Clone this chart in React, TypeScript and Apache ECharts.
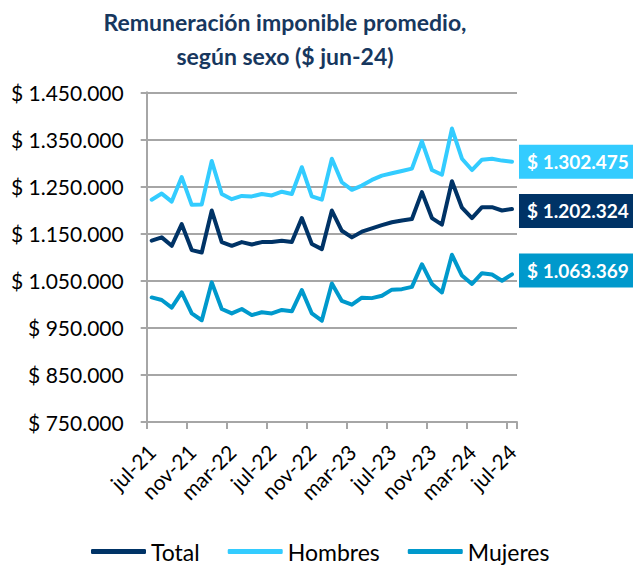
import React, { useEffect, useRef } from "react";
import * as echarts from "echarts";

const months = [
  "jul-21","ago-21","sep-21","oct-21","nov-21","dic-21","ene-22","feb-22","mar-22","abr-22","may-22","jun-22",
  "jul-22","ago-22","sep-22","oct-22","nov-22","dic-22","ene-23","feb-23","mar-23","abr-23","may-23","jun-23",
  "jul-23","ago-23","sep-23","oct-23","nov-23","dic-23","ene-24","feb-24","mar-24","abr-24","may-24","jun-24",
  "jul-24",
];

const total = [
  1135000,1142000,1124000,1170000,1115000,1110000,1199000,1132000,1124000,1132000,1127000,1132000,
  1132000,1135000,1132000,1183000,1128000,1117000,1199000,1156000,1142000,1154000,1161000,1168000,
  1174000,1178000,1181000,1238000,1183000,1169000,1261000,1205000,1183000,1206000,1206000,1199000,
  1202324,
];

const hombres = [
  1222000,1235000,1218000,1270000,1211000,1212000,1304000,1234000,1223000,1230000,1229000,1234000,
  1231000,1239000,1234000,1291000,1229000,1222000,1309000,1259000,1243000,1252000,1264000,1273000,
  1278000,1283000,1288000,1346000,1285000,1275000,1373000,1309000,1285000,1307000,1309000,1305000,
  1302475,
];

const mujeres = [
  1014500,1009000,993000,1025000,980500,966000,1046500,990000,980500,990000,977000,983000,
  980500,988000,985000,1030000,980500,965000,1044000,1007000,999000,1014000,1013000,1018000,
  1031000,1032000,1037000,1085000,1043000,1025000,1105000,1061000,1043000,1066000,1063000,1050000,
  1063369,
];

const FONT = "Lato";
const fmt = (v: number) => "$ " + String(Math.round(v)).replace(/\B(?=(\d{3})+(?!\d))/g, ".");

export default function App() {
  const ref = useRef<HTMLDivElement>(null);
  useEffect(() => {
    document.body.style.margin = "0";
    const chart = echarts.init(ref.current!, null, { renderer: "svg" });
    const mk = (name: string, data: number[], color: string, offY: number) => ({
      name,
      type: "line",
      data,
      symbol: "none",
      lineStyle: { color, width: 4, cap: "round", join: "round" },
      itemStyle: { color },
      endLabel: {
        show: true,
        formatter: (p: any) => fmt(p.value),
        backgroundColor: color,
        color: "#fff",
        fontFamily: FONT,
        fontWeight: "bold",
        fontSize: 19,
        padding: [8, 8, 7, 8],
        distance: 7,
        offset: [0, offY],
      },
    });
    chart.setOption({
      animation: false,
      textStyle: { fontFamily: FONT },
      title: {
        text: "Remuneración imponible promedio,\nsegún sexo ($ jun-24)",
        left: 280,
        textAlign: "center",
        top: 0,
        textStyle: {
          fontFamily: FONT,
          fontWeight: "bold",
          fontSize: 23,
          lineHeight: 34,
          color: "#17375E",
        },
      },
      legend: {
        left: 86,
        top: 535,
        icon: "roundRect",
        itemWidth: 55,
        itemHeight: 5,
        itemGap: 28,
        textStyle: { fontFamily: FONT, fontSize: 23, color: "#000" },
        data: ["Total", "Hombres", "Mujeres"],
      },
      grid: { left: 146.7, right: 116, top: 92.3, bottom: 145, containLabel: false },
      xAxis: {
        type: "category",
        data: months,
        boundaryGap: true,
        axisLine: { lineStyle: { color: "#A6A6A6", width: 2 } },
        axisTick: { show: true, interval: 3, length: 7, lineStyle: { color: "#A6A6A6", width: 2 } },
        axisLabel: {
          interval: 3,
          rotate: 45,
          margin: 26,
          fontFamily: FONT,
          fontSize: 21,
          color: "#000",
        },
      },
      yAxis: {
        type: "value",
        min: 750000,
        max: 1450000,
        interval: 100000,
        axisLine: { show: true, lineStyle: { color: "#A6A6A6", width: 2 } },
        axisTick: { show: true, length: 6, lineStyle: { color: "#A6A6A6", width: 2 } },
        splitLine: { lineStyle: { color: "#A6A6A6", width: 2 } },
        axisLabel: {
          margin: 23,
          fontFamily: FONT,
          fontSize: 21,
          color: "#000",
          formatter: (v: number) => fmt(v),
        },
      },
      series: [
        mk("Total", total, "#003366", 2),
        mk("Hombres", hombres, "#33CCFF", 0),
        mk("Mujeres", mujeres, "#0099CC", -4),
      ],
    });
    return () => chart.dispose();
  }, []);
  return <div ref={ref} style={{ width: 633, height: 567 }} />;
}
